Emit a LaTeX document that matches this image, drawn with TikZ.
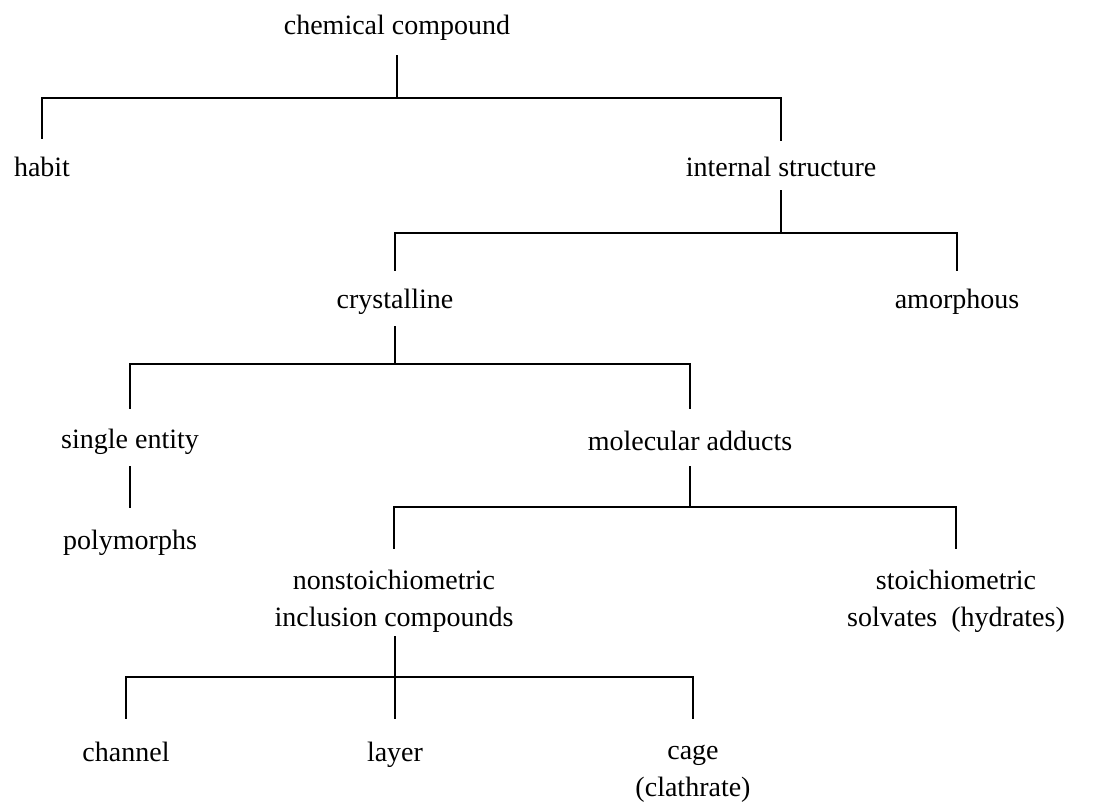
\documentclass[tikz,border=0pt]{standalone}
\usepackage{fontspec}
\setmainfont{Liberation Serif}
\begin{document}
\begin{tikzpicture}[x=1pt,y=-1pt,
  lbl/.style={font=\fontsize{28}{37}\selectfont, inner sep=0pt, anchor=base, align=center},
  conn/.style={line width=1.5pt, line cap=rect},
  bar/.style={line width=2pt, line cap=rect}]
\useasboundingbox (0,0) rectangle (1100,805);
% labels (multi-line nodes: base = baseline of last line)
\node[lbl] (cc) at (397,35) {chemical compound};
\node[lbl] (habit) at (42,177) {habit};
\node[lbl] (is) at (781,177) {internal structure};
\node[lbl] (cr) at (395,308) {crystalline};
\node[lbl] (am) at (957,308) {amorphous};
\node[lbl] (se) at (130,448) {single entity};
\node[lbl] (ma) at (690,450) {molecular adducts};
\node[lbl] (po) at (130,549) {polymorphs};
\node[lbl] (ns) at (394,626) {nonstoichiometric\\inclusion compounds};
\node[lbl] (st) at (956,626) {stoichiometric\\solvates\ \ (hydrates)};
\node[lbl] (ch) at (126,761) {channel};
\node[lbl] (la) at (395,761) {layer};
\node[lbl] (ca) at (693,796) {cage\\(clathrate)};
% bar heights
\coordinate (b1) at (0,98);
\coordinate (b2) at (0,233);
\coordinate (b3) at (0,364);
\coordinate (b4) at (0,507);
\coordinate (b5) at (0,677);
% level 1
\draw[conn] (cc |- 0,56) -- (cc |- b1);
\draw[bar] (habit |- b1) -- (is |- b1);
\draw[conn] (habit |- b1) -- (habit |- 0,138);
\draw[conn] (is |- b1) -- (is |- 0,140);
% level 2
\draw[conn] (is |- 0,191) -- (is |- b2);
\draw[bar] (cr |- b2) -- (am |- b2);
\draw[conn] (cr |- b2) -- (cr |- 0,270);
\draw[conn] (am |- b2) -- (am |- 0,270);
% level 3
\draw[conn] (cr |- 0,327) -- (cr |- b3);
\draw[bar] (se |- b3) -- (ma |- b3);
\draw[conn] (se |- b3) -- (se |- 0,408);
\draw[conn] (ma |- b3) -- (ma |- 0,408);
% single entity -> polymorphs
\draw[conn] (se |- 0,467) -- (se |- 0,507);
% level 4
\draw[conn] (ma |- 0,467) -- (ma |- b4);
\draw[bar] (ns |- b4) -- (st |- b4);
\draw[conn] (ns |- b4) -- (ns |- 0,548);
\draw[conn] (st |- b4) -- (st |- 0,548);
% level 5
\draw[conn] (la |- 0,637) -- (la |- 0,718);
\draw[bar] (ch |- b5) -- (ca |- b5);
\draw[conn] (ch |- b5) -- (ch |- 0,718);
\draw[conn] (ca |- b5) -- (ca |- 0,718);
\end{tikzpicture}
\end{document}
